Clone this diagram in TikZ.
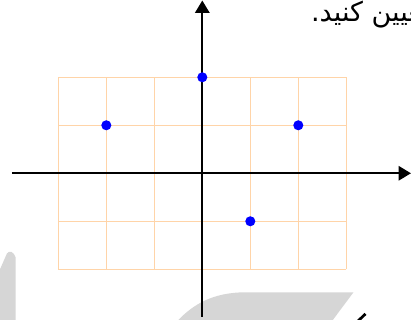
\documentclass[tikz,border=0pt]{standalone}
\usepackage{fontspec}
\usetikzlibrary{arrows.meta}
\newfontfamily\arabicfont[Script=Arabic]{DejaVu Sans}
\TeXXeTstate=1
\definecolor{gridorange}{RGB}{255,212,168}
\definecolor{markgray}{RGB}{214,214,214}
\begin{document}
\begin{tikzpicture}[x=1cm,y=1cm]
        \useasboundingbox (-4.215,-3.056) rectangle (4.348,3.61);
        % watermark pieces
        \fill[markgray] (-4.215,-2.0) -- (-4.07,-1.67) .. controls (-4.02,-1.6) and (-3.93,-1.63) .. (-3.89,-1.75) -- (-3.89,-3.056) -- (-4.215,-3.056) -- cycle;
        \fill[markgray] (-0.5,-3.056) .. controls (-0.2,-2.75) and (0.2,-2.48) .. (0.9,-2.48) -- (3.15,-2.48) -- (2.72,-3.056) -- cycle;
        % grid
        \draw[gridorange,line width=0.7pt] (-3,-2) grid (3,2);
        % axes
        \draw[line width=1.2pt,-{Triangle[length=2.6mm,width=3mm]}] (-3.97,0)--(4.348,0);
        \draw[line width=1.2pt,-{Triangle[length=2.6mm,width=3mm]}] (0,-2.99)--(0,3.6);
        % points
        \foreach \p in {(0,2),(-2,1),(2,1),(1,-1)}
            \fill[blue] \p circle (0.105);
        \begin{scope}
            \clip (-4.215,-3.056) rectangle (4.348,3.61);
            \node[anchor=west,inner sep=0pt] (caption) at (2.26,3.3) {\arabicfont\fontsize{16}{19}\selectfont\beginR تعیین کنید.\endR};
            \draw[line width=1.6pt] (3.22,-3.1) -- (3.4,-2.93);
        \end{scope}
        \end{tikzpicture}
\end{document}
